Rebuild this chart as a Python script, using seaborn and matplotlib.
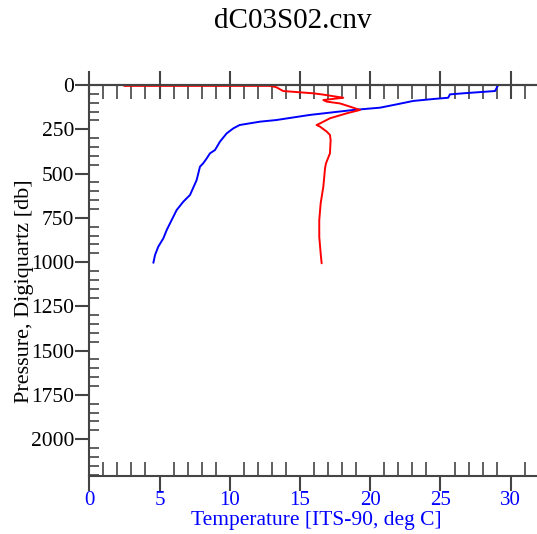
import numpy as np
import pandas as pd
import matplotlib
matplotlib.use("Agg")
import matplotlib.pyplot as plt
from matplotlib.ticker import MultipleLocator
import seaborn as sns

# Blue trace: temperature vs pressure
temp_t = [29.11, 28.88, 26.6, 25.67, 25.55, 24.5, 23.06, 21.9, 20.7, 18.8, 15.7, 13.3,
          12.15, 10.7, 10.25, 9.78, 9.3, 8.95, 8.59, 8.36, 8.11, 7.88, 7.64, 7.17,
          6.69, 6.22, 5.86, 5.51, 5.27, 4.91, 4.68, 4.56]
temp_p = [0, 34, 47, 53, 72, 79, 90, 109, 128, 141, 169, 198,
          207, 226, 245, 273, 320, 367, 386, 414, 442, 461, 537, 621,
          659, 706, 763, 819, 866, 913, 960, 1004]

# Red trace (plotted on the same horizontal scale)
red_x = [2.48, 10.7, 12.86, 13.3, 13.8, 15.94, 16.54, 18.08, 16.66, 16.9, 17.84, 18.55,
         19.27, 18.32, 17.13, 16.42, 16.18, 16.42, 16.9, 17.13, 17.18, 17.13, 16.85,
         16.78, 16.66, 16.47, 16.37, 16.37, 16.47, 16.54]
red_p = [5, 5, 5, 12, 34, 47, 53, 72, 85, 94, 104, 122,
         141, 160, 188, 217, 226, 235, 263, 282, 311, 386, 442,
         471, 574, 668, 763, 857, 951, 1007]

x_ticks = [0, 5, 10, 15, 20, 25, 30]
y_ticks = [0, 250, 500, 750, 1000, 1250, 1500, 1750, 2000]

sns.set_theme(style="white")
plt.rcParams['font.family'] = ['Liberation Serif', 'DejaVu Serif']

fig = plt.figure(figsize=(5.37, 5.34), dpi=100)
ax = fig.add_axes([89.3 / 537, 1 - 476 / 534, (537 - 89.3) / 537, (476 - 85) / 534])

df_t = pd.DataFrame({"T": temp_t, "P": temp_p})
df_r = pd.DataFrame({"X": red_x, "P": red_p})
sns.lineplot(data=df_t, x="T", y="P", sort=False, estimator=None, color="#0000ff", lw=1.4, ax=ax)
sns.lineplot(data=df_r, x="X", y="P", sort=False, estimator=None, color="#ff0000", lw=1.4, ax=ax)

ax.set_xlim(0, 31.87)
ax.set_ylim(2208, 0)
ax.set_xticks(x_ticks)
ax.set_xticklabels([str(v) for v in x_ticks])
ax.set_yticks(y_ticks)
ax.set_yticklabels([str(v) for v in y_ticks])
ax.xaxis.set_minor_locator(MultipleLocator(1))
ax.yaxis.set_minor_locator(MultipleLocator(50))

spc = "#444444"
for s in ["left", "top", "bottom"]:
    ax.spines[s].set_color(spc)
    ax.spines[s].set_linewidth(1.5)
ax.spines["right"].set_visible(False)

ax.tick_params(axis="x", which="major", direction="out", length=11, width=1.5, color=spc,
               labelsize=15, labelcolor="#0000ff", pad=0, bottom=True, top=False)
ax.tick_params(axis="x", which="minor", direction="in", length=10, width=1.2, color=spc,
               bottom=True, top=False)
ax.tick_params(axis="y", which="major", direction="out", length=10, width=1.5, color=spc,
               labelsize=15.5, labelcolor="black", pad=1, left=True, right=False)
ax.tick_params(axis="y", which="minor", direction="in", length=7, width=1.2, color=spc,
               left=True, right=False)

top = ax.secondary_xaxis("top")
top.set_xticks(x_ticks)
top.xaxis.set_minor_locator(MultipleLocator(1))
top.tick_params(axis="x", which="major", direction="inout", length=20, width=1.5, color=spc,
                labeltop=False)
top.tick_params(axis="x", which="minor", direction="in", length=10, width=1.2, color=spc)
top.spines["top"].set_color(spc)
top.spines["top"].set_linewidth(1.5)

ax.set_xlabel("Temperature [ITS-90, deg C]", color="#0000ff", fontsize=15.5)
ax.xaxis.set_label_coords((316.7 - 89.3) / (537 - 89.3), -(521 - 476) / (476 - 85))
ax.xaxis.label.set_va("center")
ax.set_ylabel("Pressure, Digiquartz [db]", color="black", fontsize=16)
ax.yaxis.set_label_coords(-(89.3 - 25) / (537 - 89.3), 1 - (291 - 85) / (476 - 85))
ax.yaxis.label.set_va("center")

fig.text(293 / 537, 1 - 28 / 534, "dC03S02.cnv", ha="center", va="baseline", fontsize=21,
         color="black")

fig.savefig("out.png", dpi=100)
